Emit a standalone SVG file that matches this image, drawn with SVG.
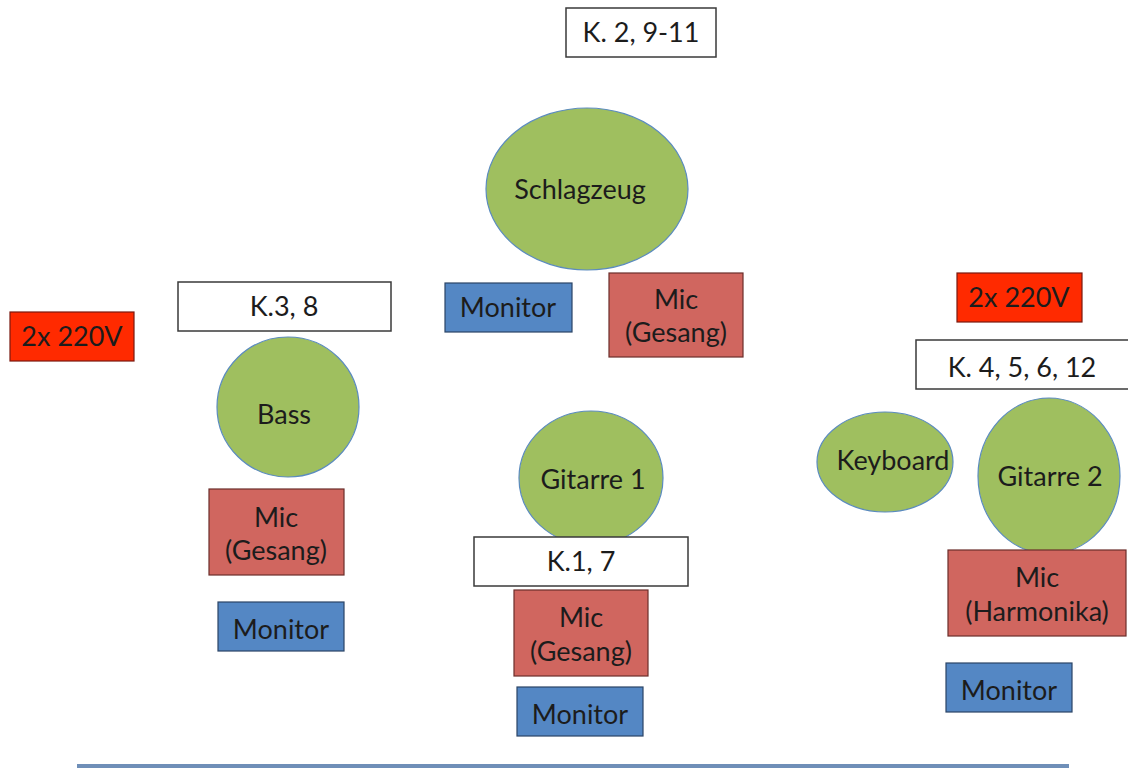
<svg xmlns="http://www.w3.org/2000/svg" width="1128" height="769" viewBox="0 0 1128 769">
<style>
text{font-family:Lato,"Open Sans","Liberation Sans",sans-serif;fill:#1c1c1c;text-anchor:middle;font-size:27px}
.lbl{fill:#fff;stroke:#3a3a3a;stroke-width:1.5}
.mic{fill:#d0665f;stroke:#6b2d2a;stroke-width:1.2}
.mon{fill:#5487c4;stroke:#2b4466;stroke-width:1.2}
.pwr{fill:#ff2a00;stroke:#7a1a10;stroke-width:1.2}
.inst{fill:#9fbf5f;stroke:#5b8bbf;stroke-width:1.2}
</style>
<rect width="1128" height="769" fill="#fff"/>
<g id="k2"><rect class="lbl" x="566" y="8" width="150" height="49"/><text x="641" y="42">K. 2, 9-11</text></g>
<g id="schlagzeug"><ellipse class="inst" cx="587" cy="189" rx="101" ry="81"/><text x="580" y="199" font-size="26">Schlagzeug</text></g>
<g id="monitor-top"><rect class="mon" x="445" y="283" width="127" height="49"/><text x="508" y="317">Monitor</text></g>
<g id="mic-top"><rect class="mic" x="609" y="273" width="134" height="84"/><text x="676" y="309">Mic</text><text x="676" y="342">(Gesang)</text></g>
<g id="power-left"><rect class="pwr" x="10" y="312" width="124" height="49"/><text x="72" y="346">2x 220V</text></g>
<g id="k3"><rect class="lbl" x="178" y="282" width="213" height="49"/><text x="284" y="316">K.3, 8</text></g>
<g id="bass"><ellipse class="inst" cx="288" cy="407" rx="71" ry="70"/><text x="284" y="424" font-size="25">Bass</text></g>
<g id="mic-bass"><rect class="mic" x="209" y="489" width="135" height="86"/><text x="276" y="527">Mic</text><text x="276" y="560">(Gesang)</text></g>
<g id="monitor-bass"><rect class="mon" x="218" y="602" width="126" height="49"/><text x="281" y="639">Monitor</text></g>
<g id="gitarre1"><ellipse class="inst" cx="591" cy="478" rx="72" ry="67"/><text x="593" y="489">Gitarre 1</text></g>
<g id="k1"><rect class="lbl" x="474" y="537" width="214" height="49"/><text x="581" y="571">K.1, 7</text></g>
<g id="mic-g1"><rect class="mic" x="514" y="590" width="134" height="86"/><text x="581" y="627">Mic</text><text x="581" y="661">(Gesang)</text></g>
<g id="monitor-g1"><rect class="mon" x="517" y="687" width="126" height="49"/><text x="580" y="724">Monitor</text></g>
<g id="power-right"><rect class="pwr" x="957" y="273" width="125" height="49"/><text x="1019" y="307">2x 220V</text></g>
<g id="k4"><rect class="lbl" x="916" y="340" width="214" height="49"/><text x="1022" y="377">K. 4, 5, 6, 12</text></g>
<g id="keyboard"><ellipse class="inst" cx="885" cy="462" rx="68" ry="50"/><text x="893" y="470" font-size="20.5">Keyboard</text></g>
<g id="gitarre2"><ellipse class="inst" cx="1049" cy="476" rx="71" ry="78"/><text x="1050" y="486">Gitarre 2</text></g>
<g id="mic-harm"><rect class="mic" x="948" y="550" width="178" height="86"/><text x="1037" y="587">Mic</text><text x="1037" y="621">(Harmonika)</text></g>
<g id="monitor-right"><rect class="mon" x="946" y="663" width="126" height="49"/><text x="1009" y="700">Monitor</text></g>
<g id="connectors"><line x1="77" y1="766" x2="1069" y2="766" stroke="#6f8fb8" stroke-width="4"/></g>
</svg>
